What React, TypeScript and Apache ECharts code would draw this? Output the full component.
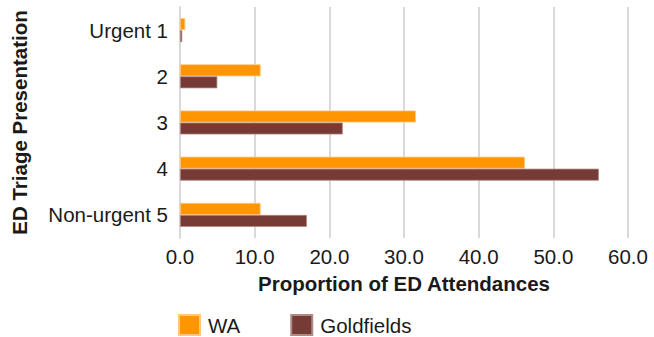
import React, { useEffect, useRef } from "react";
import * as echarts from "echarts";

const categories = ["Urgent 1", "2", "3", "4", "Non-urgent 5"];
const waValues = [0.7, 10.8, 31.6, 46.2, 10.8];
const goldfieldsValues = [0.3, 5.0, 21.8, 56.1, 17.0];
const xTicks = { min: 0, max: 60, interval: 10 };

const FONT = "'Liberation Sans', Arial, sans-serif";
const FS = 20.5;
const TEXT = "#1a1a1a";

export default function App() {
  const ref = useRef<HTMLDivElement>(null);

  useEffect(() => {
    if (!ref.current) return;
    const chart = echarts.init(ref.current, null, { renderer: "svg" });
    chart.setOption({
      animation: false,
      backgroundColor: "#ffffff",
      textStyle: { fontFamily: FONT },
      grid: {
        left: 180,
        right: 26,
        top: 7,
        bottom: 99,
        containLabel: false,
        outerBoundsMode: "none",
      },
      legend: {
        top: 314,
        left: 178,
        padding: 0,
        itemWidth: 21,
        itemHeight: 20,
        itemGap: 50,
        icon: "rect",
        textStyle: { fontSize: FS, color: TEXT, fontFamily: FONT, padding: [0, 0, 0, 3] },
        data: ["WA", "Goldfields"],
      },
      xAxis: {
        type: "value",
        min: xTicks.min,
        max: xTicks.max,
        interval: xTicks.interval,
        name: "Proportion of ED Attendances",
        nameLocation: "middle",
        nameGap: 35,
        nameTextStyle: { fontSize: FS, fontWeight: "bold", color: TEXT, fontFamily: FONT },
        axisLine: { show: false },
        axisTick: { show: false },
        axisLabel: {
          fontSize: FS,
          color: TEXT,
          margin: 8,
          fontFamily: FONT,
          formatter: (v: number) => v.toFixed(1),
        },
        splitLine: { show: true, lineStyle: { color: "#d9d9d9", width: 2 } },
      },
      yAxis: {
        type: "category",
        data: categories,
        inverse: true,
        name: "ED Triage Presentation",
        nameLocation: "middle",
        nameGap: 150,
        nameRotate: 90,
        nameTextStyle: { fontSize: FS, fontWeight: "bold", color: TEXT, fontFamily: FONT },
        axisLine: { show: true, lineStyle: { color: "#d9d9d9", width: 2 } },
        axisTick: { show: false },
        axisLabel: { fontSize: FS, color: TEXT, margin: 12, fontFamily: FONT },
      },
      series: [
        {
          name: "WA",
          type: "bar",
          data: waValues,
          barWidth: 12,
          barGap: "0%",
          itemStyle: { color: "#ff9500", borderColor: "#ffc880", borderWidth: 0.8 },
        },
        {
          name: "Goldfields",
          type: "bar",
          data: goldfieldsValues,
          barWidth: 12,
          barGap: "0%",
          itemStyle: { color: "#763b35", borderColor: "#b08a85", borderWidth: 0.8 },
        },
      ],
    });
    return () => chart.dispose();
  }, []);

  return (
    <div
      ref={ref}
      style={{ position: "fixed", left: 0, top: 0, width: 654, height: 337 }}
    />
  );
}
